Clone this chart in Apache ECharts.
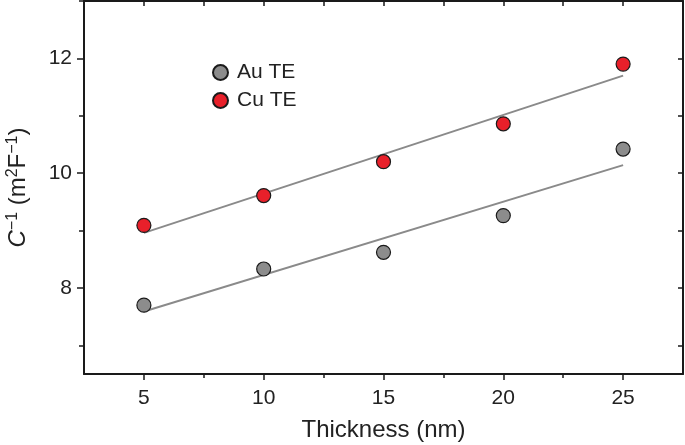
<!DOCTYPE html>
<html>
<head>
<meta charset="utf-8">
<script src="https://cdn.jsdelivr.net/npm/echarts@6/dist/echarts.min.js"></script>
<style>html,body{margin:0;padding:0;background:#fff}#c{width:685px;height:445px}</style>
</head>
<body>
<div id="c"></div>
<script>
// Data
const thickness = [5, 10, 15, 20, 25];
const auValues = [7.70, 8.33, 8.62, 9.26, 10.42];
const cuValues = [9.09, 9.61, 10.20, 10.86, 11.90];
// Linear-fit line endpoints (at 5 nm and 25 nm)
const fitX = [5, 25];
const auFit = [7.59, 10.14];
const cuFit = [8.96, 11.70];
// Tick labels / positions
const xMajor = [5, 10, 15, 20, 25];
const xMinor = [7.5, 12.5, 17.5, 22.5];
const yMajor = [8, 10, 12];
const yMinor = [7, 9, 11, 13];
const yAll = [7, 8, 9, 10, 11, 12, 13];

const FONT = 'Liberation Sans, Arial, sans-serif';
const TXT = '#222';
const pairs = (xs, ys) => xs.map((x, i) => [x, ys[i]]);

const chart = echarts.init(document.getElementById('c'), null, {renderer: 'canvas'});
const axLine = {show: true, lineStyle: {color: '#1a1a1a', width: 2}};
chart.setOption({
  animation: false,
  backgroundColor: '#fff',
  textStyle: {fontFamily: FONT},
  grid: {left: 84, right: 2, top: 1, bottom: 71, containLabel: false, outerBoundsMode: 'none'},
  legend: {
    data: ['Au TE', 'Cu TE'],
    orient: 'vertical',
    left: 207, top: 57,
    icon: 'circle',
    itemWidth: 15, itemHeight: 15, itemGap: 7,
    textStyle: {fontSize: 21, color: TXT, fontFamily: FONT, lineHeight: 21, padding: [0, 0, 0, 4]}
  },
  xAxis: [
    {
      type: 'value', min: 2.5, max: 27.5, position: 'bottom',
      name: 'Thickness (nm)', nameLocation: 'middle', nameGap: 44,
      nameTextStyle: {fontSize: 24, color: TXT, fontFamily: FONT},
      axisLine: axLine,
      axisTick: {show: true, length: 6, lineStyle: {color: '#1a1a1a', width: 1.5}, customValues: xMajor},
      axisLabel: {fontSize: 21, color: TXT, fontFamily: FONT, margin: 14, customValues: xMajor},
      splitLine: {show: false}
    },
    {
      type: 'value', min: 2.5, max: 27.5, position: 'bottom',
      axisLine: {show: false},
      axisTick: {show: true, length: 4, lineStyle: {color: '#1a1a1a', width: 1.5}, customValues: xMinor},
      axisLabel: {show: false},
      splitLine: {show: false}
    },
    {
      type: 'value', min: 2.5, max: 27.5, position: 'top',
      axisLine: axLine,
      axisTick: {show: true, inside: true, length: 5, lineStyle: {color: '#1a1a1a', width: 1.5}, customValues: xMajor.concat(xMinor)},
      axisLabel: {show: false},
      splitLine: {show: false}
    }
  ],
  yAxis: [
    {
      type: 'value', min: 6.5, max: 13, position: 'left',
      name: '{i|C}{s|\u22121} (m{s|2}F{s|\u22121})', nameLocation: 'middle', nameGap: 52, nameRotate: 90,
      nameTextStyle: {
        fontSize: 24, color: TXT, fontFamily: FONT,
        rich: {
          i: {fontSize: 24, fontStyle: 'italic', color: TXT, fontFamily: FONT},
          s: {fontSize: 16, color: TXT, fontFamily: FONT, padding: [0, 0, 11, 0]}
        }
      },
      axisLine: axLine,
      axisTick: {show: true, length: 7, lineStyle: {color: '#1a1a1a', width: 1.5}, customValues: yMajor},
      axisLabel: {fontSize: 21, color: TXT, fontFamily: FONT, margin: 12, customValues: yMajor},
      splitLine: {show: false}
    },
    {
      type: 'value', min: 6.5, max: 13, position: 'left',
      axisLine: {show: false},
      axisTick: {show: true, length: 5, lineStyle: {color: '#1a1a1a', width: 1.5}, customValues: yMinor},
      axisLabel: {show: false},
      splitLine: {show: false}
    },
    {
      type: 'value', min: 6.5, max: 13, position: 'right',
      axisLine: axLine,
      axisTick: {show: true, inside: true, length: 5, lineStyle: {color: '#1a1a1a', width: 1.5}, customValues: yAll},
      axisLabel: {show: false},
      splitLine: {show: false}
    }
  ],
  series: [
    {
      name: 'Au fit', type: 'line', data: pairs(fitX, auFit), showSymbol: false, symbol: 'none',
      lineStyle: {color: '#8a8a8a', width: 2}, z: 1, silent: true
    },
    {
      name: 'Cu fit', type: 'line', data: pairs(fitX, cuFit), showSymbol: false, symbol: 'none',
      lineStyle: {color: '#8a8a8a', width: 2}, z: 1, silent: true
    },
    {
      name: 'Au TE', type: 'scatter', data: pairs(thickness, auValues), symbol: 'circle', symbolSize: 14,
      itemStyle: {color: '#8c8c8c', borderColor: '#1a1a1a', borderWidth: 1.2, opacity: 1}, z: 3
    },
    {
      name: 'Cu TE', type: 'scatter', data: pairs(thickness, cuValues), symbol: 'circle', symbolSize: 14,
      itemStyle: {color: '#e8202a', borderColor: '#1a1a1a', borderWidth: 1.2, opacity: 1}, z: 3
    }
  ]
});
</script>
</body>
</html>
